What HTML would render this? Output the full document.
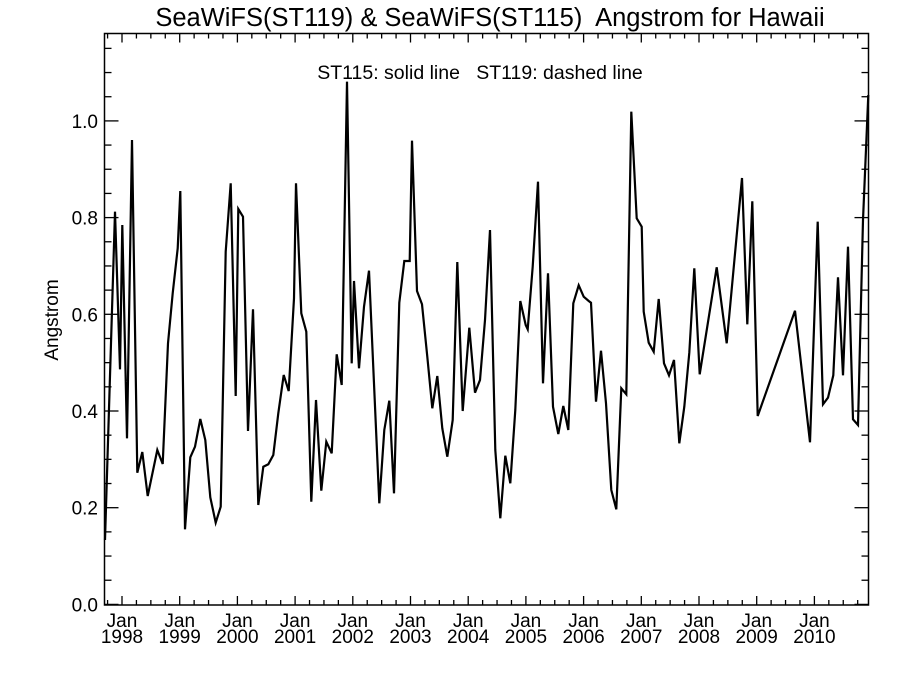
<!DOCTYPE html>
<html><head><meta charset="utf-8"><style>
html,body{margin:0;padding:0;background:#fff;}
svg{display:block;font-family:"Liberation Sans",sans-serif;}
</style></head><body>
<svg id="s" width="900" height="675" viewBox="0 0 900 675" xmlns="http://www.w3.org/2000/svg">
<rect width="900" height="675" fill="#fff"/>
<text x="490" y="26" font-size="25.5" text-anchor="middle" xml:space="preserve">SeaWiFS(ST119) &amp; SeaWiFS(ST115)  Angstrom for Hawaii</text>
<text x="480" y="79" font-size="19.5" text-anchor="middle" xml:space="preserve">ST115: solid line   ST119: dashed line</text>
<text transform="translate(58,320) rotate(-90)" font-size="19" text-anchor="middle">Angstrom</text>
<rect x="104.5" y="33.5" width="764" height="571.5" fill="none" stroke="#000" stroke-width="1.5"/>
<g id="ticks" stroke="#000" stroke-width="1.3"></g>
<g id="labels" font-size="19"></g>
<polyline fill="none" stroke="#000" stroke-width="2.2" stroke-linejoin="miter" points="105,540 115,211.7 120,369.3 122.3,225 127,438.3 132,140 137.3,472.7 142.3,452 147.7,496 157.3,450 162.7,464 168,343.3 172.7,293.3 177.7,248.3 180.3,191 185,529.3 190.3,457.3 195,446.7 200.3,419 205.3,440 210.3,497.3 215.7,522.7 220.7,506.7 225.7,251.7 230.7,183.3 235.7,396 238.3,209 243,216.7 248,431 253,309.3 258.3,505 263.3,466.7 268.3,464.3 273.3,455 278.3,413.3 283.7,375 288.7,391 294,298.3 296,183.3 301.3,313.3 306.3,331.7 311.3,501.7 316,400 321.3,490.7 326.3,441.7 331.7,453.3 336.7,354.3 341.7,385 347,81.7 351.7,363.3 354,281 359,368.3 364,306.7 369,270.7 379.3,503.3 384.3,430 389.3,400.7 394,493.3 399.3,302.7 404.3,261 409.7,261 412,140.7 417,291 422,304.3 427.3,356.7 432.3,408.3 437.3,376 442.3,428.3 447.3,456.7 452.7,420 457.3,262 462.7,411 469.3,327.7 475,392.7 480,380 485,320 490,230 495.3,450 500.3,518.3 505.3,455.7 510.3,483.3 515.3,410 520.3,301 525.7,325 527.7,329.3 532.7,266.7 538,181.7 543,383.3 548,273.3 553,406.7 558.3,434 563.3,406 568.3,430 573.3,303.3 578.7,285.3 583.7,296.7 588.7,301 591,302.7 596,401.7 601,350.7 606,403.3 611.3,490 616.3,509.3 621.3,388.3 626.3,394.3 631.3,111.7 636.7,218.3 641.7,226.7 643.7,311.7 648.7,342.7 653.7,351.7 658.7,299 664,363.3 669,375.3 674,360 679.3,443.3 684.3,406.7 689.3,352.7 694.3,268.3 699.7,374.3 716.7,267.3 726.7,343.3 742,178 747.3,324.3 752.3,201.3 757.7,416 795,310.7 810,442.3 817.7,221.7 823,404.3 828,397.7 833.3,375.3 838,277.3 843,375.3 848,246.7 853,419.3 858,425 863,220 868.3,95"/>
</svg>
<script>
var t=document.getElementById('ticks'),L=document.getElementById('labels'),ns='http://www.w3.org/2000/svg';
function ln(x1,y1,x2,y2){var e=document.createElementNS(ns,'line');e.setAttribute('x1',x1);e.setAttribute('y1',y1);e.setAttribute('x2',x2);e.setAttribute('y2',y2);t.appendChild(e);}
function tx(x,y,s,a){var e=document.createElementNS(ns,'text');e.setAttribute('x',x);e.setAttribute('y',y);e.setAttribute('text-anchor',a);e.textContent=s;L.appendChild(e);}
for(var i=0;i<=23;i++){var v=i*0.05,y=604.4-v*483.5;if(y<34)continue;var maj=(i%4==0);var len=maj?14:7;ln(104.5,y,104.5+len,y);ln(868.5,y,868.5-len,y);if(maj)tx(98,y+7,(v).toFixed(1),'end');}
for(var m=-3;m<=156;m+=3){var x=122+m/12*57.7;if(x<105||x>868)continue;var maj=(m%12==0);var len=maj?9:5;ln(x,605,x,605-len);ln(x,33.5,x,33.5+len);if(maj){tx(x,627,'Jan','middle');tx(x,643,String(1998+m/12),'middle');}}
</script>
</body></html>
